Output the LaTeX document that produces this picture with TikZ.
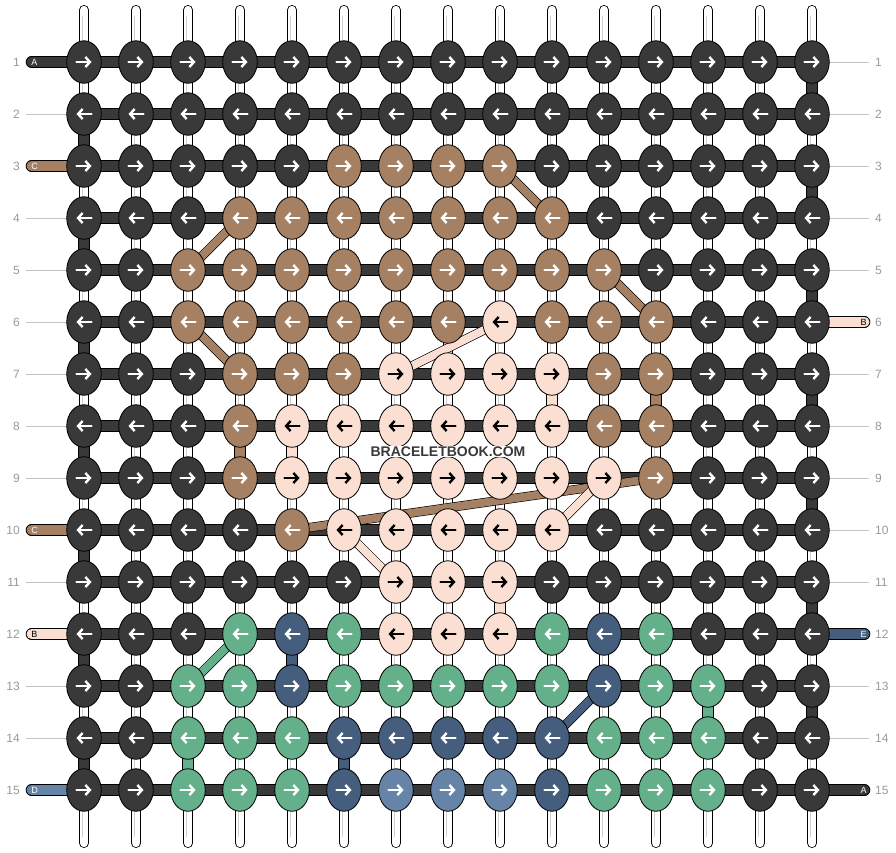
\documentclass[tikz,border=0pt]{standalone}
\usepackage{fontspec}
\setmainfont{Liberation Sans}
\usetikzlibrary{arrows.meta,positioning,shapes.geometric}

\pgfdeclarelayer{warps}
\pgfdeclarelayer{strings}
\pgfsetlayers{warps,strings,main}

\definecolor{cK}{HTML}{393939}
\definecolor{cN}{HTML}{A58062}
\definecolor{cP}{HTML}{FBDFD2}
\definecolor{cG}{HTML}{64B08A}
\definecolor{cB}{HTML}{455E7E}
\definecolor{cL}{HTML}{6683A8}
\definecolor{numgray}{HTML}{999999}
\definecolor{linegray}{HTML}{C4C4C4}

\tikzset{
	knot/.style	= {ellipse, draw=black, line width=0.8pt, fill=c#1, minimum width=34.5pt, minimum height=42.5pt, inner sep=0pt},
	dirarrow/.style	= {-{Straight Barb[length=4.5pt,width=10pt]}, line width=2.4pt, line cap=round},
	arrK/.style	= {draw=white},
	arrN/.style	= {draw=white},
	arrP/.style	= {draw=black},
	arrG/.style	= {draw=white},
	arrB/.style	= {draw=white},
	arrL/.style	= {draw=white},
	warp/.style	= {draw=black, line width=0.8pt, double=white, double distance=8.4pt, line cap=round},
	warpline/.style	= {draw=black!18, line width=0.6pt, double=white, double distance=3pt, shorten <=6pt, shorten >=6pt},
	strand/.style	= {draw=black, line width=0.6pt, double=c#1, double distance=10.4pt},
	diag/.style	= {draw=black, line width=0.6pt, double=c#1, double distance=8pt},
	pill/.style	= {draw=black, line width=0.8pt, double=c#1, double distance=10pt, line cap=round},
	num/.style	= {text=numgray, font=\fontsize{12}{12}\selectfont, inner sep=0pt},
	rowline/.style	= {draw=linegray, line width=0.8pt},
	pilltext/.style	= {font=\fontsize{9}{9}\selectfont, inner sep=0pt, text=#1},
	brand/.style	= {font=\bfseries\fontsize{14}{14}\selectfont, text=cK, fill=white, inner xsep=1pt, inner ysep=0.5pt}
}

\begin{document}
\begin{tikzpicture}[x=1pt, y=-1pt]
	\useasboundingbox (0,0) rectangle (896,852);

	\foreach \row [count=\r] in {
		{K,K,K,K,K,K,K,K,K,K,K,K,K,K,K},
		{K,K,K,K,K,K,K,K,K,K,K,K,K,K,K},
		{K,K,K,K,K,N,N,N,N,K,K,K,K,K,K},
		{K,K,K,N,N,N,N,N,N,N,K,K,K,K,K},
		{K,K,N,N,N,N,N,N,N,N,N,K,K,K,K},
		{K,K,N,N,N,N,N,N,P,N,N,N,K,K,K},
		{K,K,K,N,N,N,P,P,P,P,N,N,K,K,K},
		{K,K,K,N,P,P,P,P,P,P,N,N,K,K,K},
		{K,K,K,N,P,P,P,P,P,P,P,N,K,K,K},
		{K,K,K,K,N,P,P,P,P,P,K,K,K,K,K},
		{K,K,K,K,K,K,P,P,P,K,K,K,K,K,K},
		{K,K,K,G,B,G,P,P,P,G,B,G,K,K,K},
		{K,K,G,G,B,G,G,G,G,G,B,G,G,K,K},
		{K,K,G,G,G,B,B,B,B,B,G,G,G,K,K},
		{K,K,G,G,G,B,L,L,L,B,G,G,G,K,K}} {
		\foreach \cc [count=\c] in \row {
			\pgfmathsetmacro\xs{ifthenelse(isodd(\r),-7.5,7.5)}
			\pgfmathsetmacro\xe{ifthenelse(isodd(\r),7.5,-7.5)}
			\node	(k-\r-\c)	[knot=\cc]	at ({84+52*(\c-1)}, {62+52*(\r-1)})	{};
			\draw	[dirarrow, arr\cc]	([xshift=\xs pt]k-\r-\c.center) -- ([xshift=\xe pt]k-\r-\c.center);
		}
	}

	\begin{pgfonlayer}{warps}
		\foreach \c in {1,...,15} {
			\coordinate	(wt-\c)	at ({84+52*(\c-1)}, 10);
			\coordinate	(wb-\c)	at ({84+52*(\c-1)}, 843);
			\draw	[warp]		(wt-\c) -- (wb-\c);
			\draw	[warpline]	(wt-\c) -- (wb-\c);
		}
	\end{pgfonlayer}

	\foreach \r in {1,...,15} {
		\node	(ln-\r)	[num, anchor=east]	at (20, {62+52*(\r-1)})	{\r};
		\node	(rn-\r)	[num, anchor=west]	at (875, {62+52*(\r-1)})	{\r};
	}

	\begin{pgfonlayer}{strings}
		\foreach \r in {1,...,15}
			\draw	[strand=K]	(k-\r-1.center) -- (k-\r-15.center);
		\foreach \r in {2,4,...,14} {
			\pgfmathtruncatemacro\rn{\r+1}
			\draw	[strand=K]	(k-\r-1.center) -- (k-\rn-1.center);
		}
		\foreach \r in {1,3,...,13} {
			\pgfmathtruncatemacro\rn{\r+1}
			\draw	[strand=K]	(k-\r-15.center) -- (k-\rn-15.center);
		}
		\foreach \r/\c/\cc in {8/4/N, 8/5/P, 7/10/P, 7/12/N, 11/9/P, 12/5/B, 14/3/G, 14/6/B, 13/13/G} {
			\pgfmathtruncatemacro\rn{\r+1}
			\draw	[strand=\cc]	(k-\r-\c.center) -- (k-\rn-\c.center);
		}
		\foreach \ra/\ca/\rb/\cb/\cc in {3/9/4/10/N, 5/3/4/4/N, 5/11/6/12/N, 6/3/7/4/N, 7/7/6/9/P,
				10/5/9/12/N, 10/10/9/11/P, 10/6/11/7/P, 13/3/12/4/G, 14/10/13/11/B}
			\draw	[diag=\cc]	(k-\ra-\ca.center) -- (k-\rb-\cb.center);

		\foreach \r in {2,4,5,6,7,8,9,11,13,14}
			\draw	[rowline]	([xshift=6pt]ln-\r.east) -- (k-\r-1.center);
		\foreach \r in {1,2,3,4,5,7,8,9,10,11,13,14}
			\draw	[rowline]	([xshift=-6pt]rn-\r.west) -- (k-\r-15.center);

		\foreach \r/\cc/\lt/\tc in {1/K/A/white, 3/N/C/white, 10/N/C/white, 12/P/B/black, 15/L/D/white} {
			\coordinate	(pl-\r)	at (31.5, {62+52*(\r-1)});
			\draw	[pill=\cc]	(pl-\r) -- (k-\r-1.center);
		}
		\foreach \r/\cc/\lt/\tc in {6/P/B/black, 12/B/E/white, 15/K/A/white} {
			\coordinate	(pr-\r)	at (864.5, {62+52*(\r-1)});
			\draw	[pill=\cc]	(pr-\r) -- (k-\r-15.center);
		}
	\end{pgfonlayer}

	\foreach \r/\cc/\lt/\tc in {1/K/A/white, 3/N/C/white, 10/N/C/white, 12/P/B/black, 15/L/D/white}
		\node	(plt-\r)	[pilltext=\tc]	at (34.5, {62+52*(\r-1)})	{\lt};
	\foreach \r/\cc/\lt/\tc in {6/P/B/black, 12/B/E/white, 15/K/A/white}
		\node	(prt-\r)	[pilltext=\tc]	at (863.5, {62+52*(\r-1)})	{\lt};

	\node	(brandtext)	[brand]	at (448, 451.5)	{BRACELETBOOK.COM};
\end{tikzpicture}
\end{document}
